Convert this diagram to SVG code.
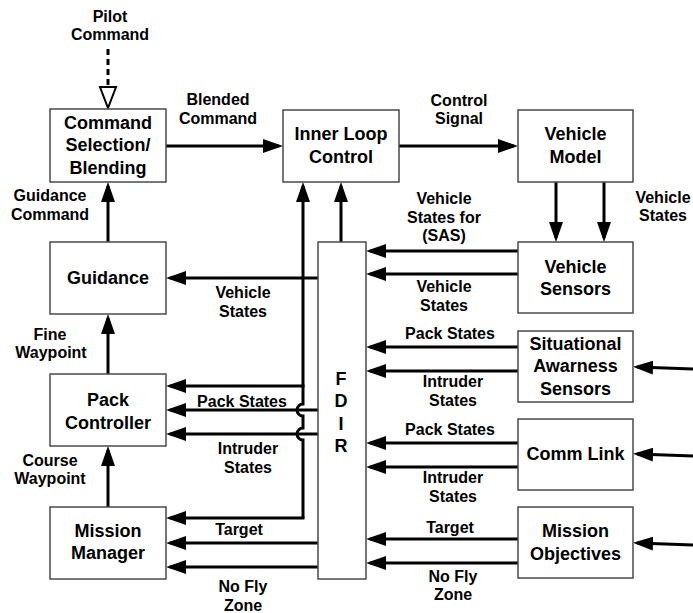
<svg xmlns="http://www.w3.org/2000/svg" width="693" height="613" viewBox="0 0 693 613">
  <defs>
    <marker id="arrow" viewBox="0 0 20 14" refX="16" refY="7" markerWidth="20" markerHeight="14" markerUnits="userSpaceOnUse" orient="auto">
      <path d="M0,0 L20,7 L0,14 z" fill="#000"/>
    </marker>
    <style>
      .node rect { fill: #fff; stroke: #4a4a4a; stroke-width: 1.5; }
      .node text { font-family: "Liberation Sans", Arial, sans-serif; font-weight: bold; font-size: 18px; text-anchor: middle; fill: #000; }
      .lbl { font-family: "Liberation Sans", Arial, sans-serif; font-weight: bold; font-size: 16px; text-anchor: middle; fill: #000; }
      .wire { fill: none; stroke: #000; stroke-width: 3; marker-end: url(#arrow); }
    </style>
  </defs>
  <rect width="693" height="613" fill="#fff"/>

  <!-- connectors -->
  <g id="connectors">
    <!-- pilot command (dashed, hollow head) -->
    <line x1="108" y1="49" x2="108" y2="87" stroke="#000" stroke-width="3" stroke-dasharray="6 4"/>
    <polygon points="100,87 116,87 108,108" fill="#fff" stroke="#000" stroke-width="2"/>

    <path class="wire" d="M166,146 L279,146"/>
    <path class="wire" d="M399,146 L514,146"/>
    <path class="wire" d="M556,182 L556,238"/>
    <path class="wire" d="M604,182 L604,238"/>

    <!-- vehicle sensors to FDIR -->
    <path class="wire" d="M518,251 L370,251"/>
    <path class="wire" d="M518,274 L370,274"/>

    <!-- FDIR outputs -->
    <path class="wire" d="M318,278 L170,278"/>
    <path class="wire" d="M341,242 L341,186"/>

    <!-- bypass bus with line hops -->
    <path class="wire" d="M303,518 L303,440 A6,6 0 0 1 303,428 L303,416 A6,6 0 0 1 303,404 L303,186"/>
    <path class="wire" d="M304.5,386 L170,386"/>
    <path class="wire" d="M304.5,518 L170,518"/>

    <path class="wire" d="M318,410 L170,410"/>
    <path class="wire" d="M318,434 L170,434"/>
    <path class="wire" d="M318,543 L170,543"/>
    <path class="wire" d="M318,567 L170,567"/>

    <!-- left column -->
    <path class="wire" d="M108,242 L108,186"/>
    <path class="wire" d="M108,374 L108,318"/>
    <path class="wire" d="M108,507 L108,450"/>

    <!-- right column into FDIR -->
    <path class="wire" d="M518,347 L370,347"/>
    <path class="wire" d="M518,371 L370,371"/>
    <path class="wire" d="M518,443 L370,443"/>
    <path class="wire" d="M518,467 L370,467"/>
    <path class="wire" d="M518,539 L370,539"/>
    <path class="wire" d="M518,563 L370,563"/>

    <!-- external inputs -->
    <path class="wire" d="M693,369 L637,367"/>
    <path class="wire" d="M693,456 L637,454"/>
    <path class="wire" d="M693,545 L637,543"/>
  </g>

  <!-- nodes -->
  <g id="command-selection" class="node">
    <rect x="50" y="109" width="116" height="73"/>
    <text x="108" y="129">Command</text>
    <text x="108" y="151">Selection/</text>
    <text x="108" y="174">Blending</text>
  </g>
  <g id="inner-loop" class="node">
    <rect x="283" y="110" width="116" height="72"/>
    <text x="341" y="140">Inner Loop</text>
    <text x="341" y="163">Control</text>
  </g>
  <g id="vehicle-model" class="node">
    <rect x="518" y="110" width="115" height="72"/>
    <text x="575.5" y="140">Vehicle</text>
    <text x="575.5" y="163">Model</text>
  </g>
  <g id="vehicle-sensors" class="node">
    <rect x="518" y="242" width="115" height="71"/>
    <text x="575.5" y="273">Vehicle</text>
    <text x="575.5" y="295">Sensors</text>
  </g>
  <g id="guidance" class="node">
    <rect x="50" y="242" width="116" height="72"/>
    <text x="108" y="284">Guidance</text>
  </g>
  <g id="pack-controller" class="node">
    <rect x="50" y="374" width="116" height="72"/>
    <text x="108" y="406">Pack</text>
    <text x="108" y="429">Controller</text>
  </g>
  <g id="mission-manager" class="node">
    <rect x="50" y="507" width="116" height="72"/>
    <text x="108" y="537">Mission</text>
    <text x="108" y="559">Manager</text>
  </g>
  <g id="fdir" class="node">
    <rect x="318" y="242" width="48" height="337"/>
    <text x="341" y="385">F</text>
    <text x="341" y="407">D</text>
    <text x="341" y="430">I</text>
    <text x="341" y="452">R</text>
  </g>
  <g id="situational-awareness" class="node">
    <rect x="518" y="331" width="115" height="71"/>
    <text x="575.5" y="350">Situational</text>
    <text x="575.5" y="372">Awarness</text>
    <text x="575.5" y="395">Sensors</text>
  </g>
  <g id="comm-link" class="node">
    <rect x="518" y="419" width="115" height="71"/>
    <text x="575.5" y="460">Comm Link</text>
  </g>
  <g id="mission-objectives" class="node">
    <rect x="518" y="507" width="115" height="71"/>
    <text x="575.5" y="537">Mission</text>
    <text x="575.5" y="560">Objectives</text>
  </g>

  <!-- connector labels -->
  <g id="labels">
    <text class="lbl" x="110" y="22">Pilot</text>
    <text class="lbl" x="110" y="40">Command</text>
    <text class="lbl" x="218" y="105">Blended</text>
    <text class="lbl" x="218" y="124">Command</text>
    <text class="lbl" x="459" y="106">Control</text>
    <text class="lbl" x="459" y="124">Signal</text>
    <text class="lbl" x="444" y="204">Vehicle</text>
    <text class="lbl" x="444" y="223">States for</text>
    <text class="lbl" x="444" y="241">(SAS)</text>
    <text class="lbl" x="444" y="292">Vehicle</text>
    <text class="lbl" x="444" y="311">States</text>
    <text class="lbl" x="663" y="203">Vehicle</text>
    <text class="lbl" x="663" y="221">States</text>
    <text class="lbl" x="50" y="201">Guidance</text>
    <text class="lbl" x="50" y="220">Command</text>
    <text class="lbl" x="243" y="298">Vehicle</text>
    <text class="lbl" x="243" y="317">States</text>
    <text class="lbl" x="50" y="340">Fine</text>
    <text class="lbl" x="51" y="358">Waypoint</text>
    <text class="lbl" x="242" y="407">Pack States</text>
    <text class="lbl" x="248" y="454">Intruder</text>
    <text class="lbl" x="248" y="473">States</text>
    <text class="lbl" x="50" y="466">Course</text>
    <text class="lbl" x="50" y="484">Waypoint</text>
    <text class="lbl" x="239" y="535">Target</text>
    <text class="lbl" x="243" y="592">No Fly</text>
    <text class="lbl" x="243" y="611">Zone</text>
    <text class="lbl" x="450" y="339">Pack States</text>
    <text class="lbl" x="453" y="387">Intruder</text>
    <text class="lbl" x="453" y="406">States</text>
    <text class="lbl" x="450" y="435">Pack States</text>
    <text class="lbl" x="453" y="483">Intruder</text>
    <text class="lbl" x="453" y="502">States</text>
    <text class="lbl" x="450" y="533">Target</text>
    <text class="lbl" x="453" y="582">No Fly</text>
    <text class="lbl" x="453" y="600">Zone</text>
  </g>
</svg>
